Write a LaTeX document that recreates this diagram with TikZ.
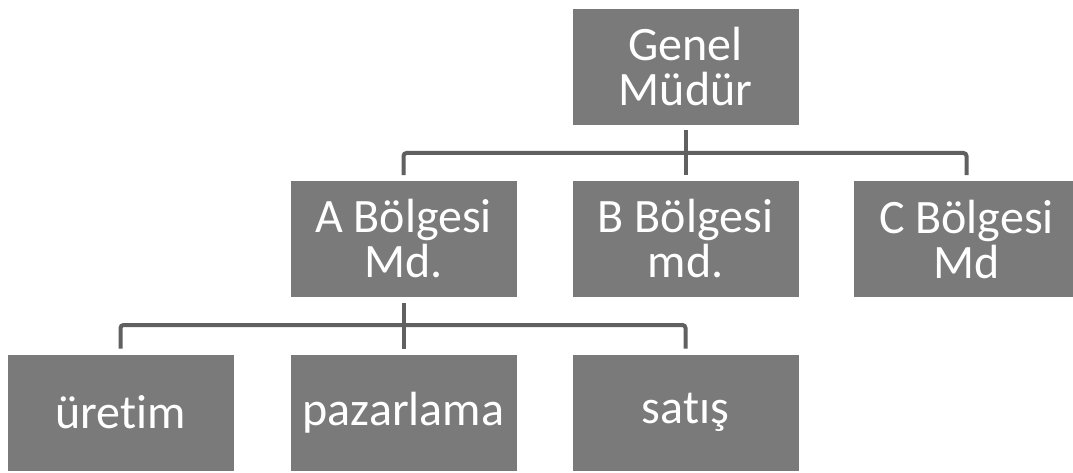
\documentclass[tikz,border=0pt]{standalone}
\usepackage{fontspec}
\setmainfont[Ligatures={NoCommon}]{Carlito}
\begin{document}
\begin{tikzpicture}[x=1pt,y=-1pt,
  orgbox/.style={fill=boxgray,draw=white,line width=0.8pt,text=white,
    minimum width=227pt,minimum height=117pt,inner sep=0pt,
    align=center,font=\fontsize{48}{45}\selectfont},
  conn/.style={draw=linegray,line width=4pt,rounded corners=3pt,line cap=butt}]
\definecolor{boxgray}{HTML}{7A7A7A}
\definecolor{linegray}{HTML}{606060}
\useasboundingbox (0,0) rectangle (1073,473);
\clip (0,0) rectangle (1073,473);
% boxes
\node[orgbox] (gm) at (685.5,66.5) {Genel\\Müdür};
\node[orgbox] (a) at (403.5,239) {A Bölgesi\\Md.};
\node[orgbox] (b) at (685.5,239) {B Bölgesi\\md.};
\node[orgbox] (c) at (966.5,239) {C Bölgesi\\Md};
\node[orgbox] (u) at (120.5,412.5) {üretim};
\node[orgbox] (p) at (403.5,412.5) {pazarlama};
\node[orgbox] (s) at (685.5,412.5) {satış};
% bus points
\coordinate (bus1) at (685.5,153);
\coordinate (bus2) at (403.5,325);
% connectors
\draw[conn,shorten <=5pt] (gm.south) -- (bus1);
\draw[conn,shorten >=5pt] (bus1) -| (a.north);
\draw[conn,shorten >=5pt] (bus1) -- (b.north);
\draw[conn,shorten >=5pt] (bus1) -| (c.north);
\draw[conn,shorten <=5pt] (a.south) -- (bus2);
\draw[conn,shorten >=5pt] (bus2) -| (u.north);
\draw[conn,shorten >=5pt] (bus2) -- (p.north);
\draw[conn,shorten >=5pt] (bus2) -| (s.north);
\end{tikzpicture}
\end{document}
